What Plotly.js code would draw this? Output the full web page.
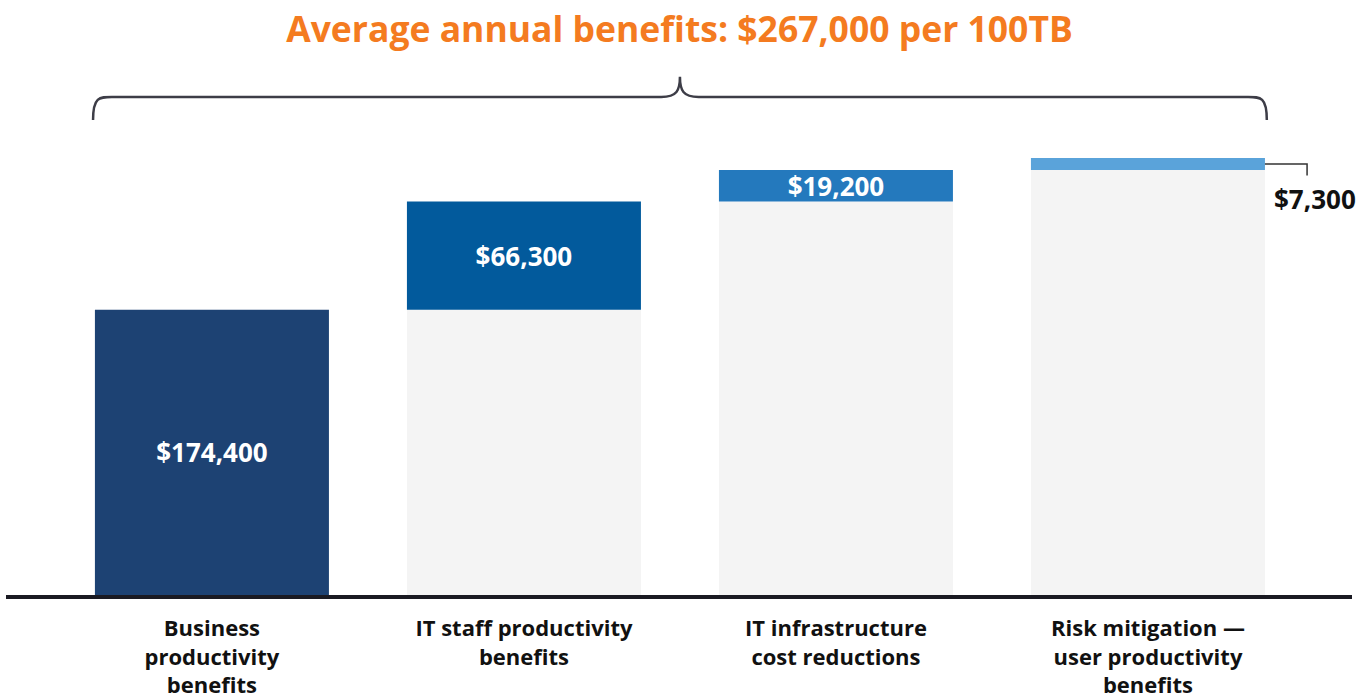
<!DOCTYPE html>
<html>
<head>
<meta charset="utf-8">
<script src="https://cdn.plot.ly/plotly-3.0.1.min.js"></script>
<style>html,body{margin:0;padding:0;background:#fff;}#chart{width:1359px;height:694px;}</style>
</head>
<body>
<div id="chart"></div>
<script>
// ---- data ----
const categories = ["Business<br>productivity<br>benefits", "IT staff productivity<br>benefits", "IT infrastructure<br>cost reductions", "Risk mitigation —<br>user productivity<br>benefits"];
const values = [174400, 66300, 19200, 7300];
const valueLabels = ["$174,400", "$66,300", "$19,200", "$7,300"];
const barColors = ["#1d4273", "#025a9c", "#2479bd", "#5aa3da"];
const titleText = "Average annual benefits: $267,000 per 100TB";

// cumulative bases
const bases = [];
let run = 0;
for (let i = 0; i < values.length; i++) { bases.push(run); run += values[i]; }
const total = run;
const xs = [0, 1, 2, 3];

const baseTrace = {
  type: "bar", x: xs, y: bases, width: 0.75,
  marker: {color: "#f4f4f4", line: {width: 0}},
  hoverinfo: "skip", showlegend: false
};
const insideText = valueLabels.map((t, i) => i < 3 ? t : "");
const valTrace = {
  type: "bar", x: xs, y: values, base: bases, width: 0.75,
  marker: {color: barColors, line: {width: 0}},
  text: insideText, textposition: "inside", insidetextanchor: "middle",
  textangle: 0, constraintext: "none",
  textfont: {family: "Open Sans, sans-serif", size: 26, color: "#ffffff", weight: "bold"},
  showlegend: false
};

const bw = 0.375;
const last = values.length - 1;
const topLast = bases[last] + values[last];
const midLast = bases[last] + values[last] / 2;

// brace in data coordinates above the total
const yH = total * 1.14, yEnd = total * 1.087, yTip = total * 1.186;
const xl = -bw - 0.006, xr = last + bw + 0.006, xm = (xl + xr) / 2;
const braceD = `M ${xl},${yEnd} C ${xl},${yH} ${xl+0.02},${yH} ${xl+0.06},${yH} L ${xm-0.06},${yH} C ${xm-0.01},${yH} ${xm},${yH+total*0.015} ${xm},${yTip} C ${xm},${yH+total*0.015} ${xm+0.01},${yH} ${xm+0.06},${yH} L ${xr-0.06},${yH} C ${xr-0.02},${yH} ${xr},${yH} ${xr},${yEnd}`;

const layout = {
  width: 1359, height: 694,
  margin: {l: 6, r: 7, t: 0, b: 99},
  paper_bgcolor: "#ffffff", plot_bgcolor: "#ffffff",
  barmode: "overlay",
  title: {text: titleText, x: 0.5, xanchor: "center", y: 1 - 30/694, yanchor: "middle", yref: "container",
    font: {family: "Open Sans, sans-serif", size: 35.5, color: "#f47b20", weight: "bold"}},
  xaxis: {
    range: [-0.66, 3.654], tickmode: "array", tickvals: xs, ticktext: categories,
    showline: true, linecolor: "#1a1a22", linewidth: 3.5, showgrid: false, zeroline: false,
    ticks: "outside", ticklen: 11, tickcolor: "rgba(0,0,0,0)",
    tickfont: {family: "Open Sans, sans-serif", size: 22, color: "#111111", weight: "bold"},
    fixedrange: true
  },
  yaxis: {range: [0, 363900], visible: false, showgrid: false, zeroline: false, fixedrange: true},
  shapes: [
    {type: "path", xref: "x", yref: "y", path: braceD, line: {color: "#3d3d47", width: 2.5}},
    {type: "path", xref: "x", yref: "y",
     path: `M ${last + bw},${midLast} L ${last + 0.51},${midLast} L ${last + 0.51},${topLast - total*0.04}`,
     line: {color: "#333333", width: 1.5}}
  ],
  annotations: [
    {x: last + 0.535, y: topLast - total*0.094, xref: "x", yref: "y", text: valueLabels[last], showarrow: false,
     font: {family: "Open Sans, sans-serif", size: 26, color: "#111111", weight: "bold"}, xanchor: "center", yanchor: "middle"}
  ],
  showlegend: false
};

Plotly.newPlot("chart", [baseTrace, valTrace], layout, {displayModeBar: false, staticPlot: true});
</script>
</body>
</html>
